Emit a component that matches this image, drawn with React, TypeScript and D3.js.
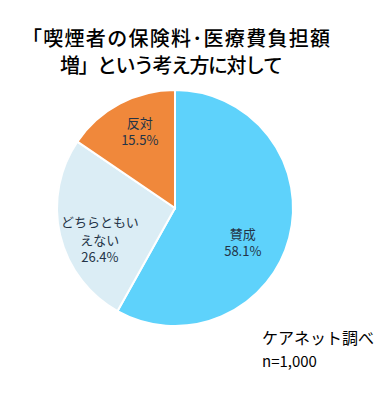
import React from "react";
import * as d3 from "d3";

const categories = ["賛成", "どちらともいえない", "反対"];
const values = [58.1, 26.4, 15.5];
const labelLines = [["賛成"], ["どちらともい", "えない"], ["反対"]];
const colors = ["#5ed2fb", "#dbedf5", "#f0883b"];
const titleLines = ["「喫煙者の保険料･医療費負担額", "増」という考え方に対して"];
const sourceLines = ["ケアネット調べ", "n=1,000"];

export default function App() {
  const W = 376, H = 400;
  const cx = 175, cy = 208, r = 118;
  const pie = d3.pie<number>().sort(null).value((d) => d);
  const arcs = pie(values);
  const arcGen = d3.arc<d3.PieArcDatum<number>>().innerRadius(0).outerRadius(r);
  const labelArc = d3.arc<d3.PieArcDatum<number>>().innerRadius(r * 0.62).outerRadius(r * 0.62);
  const font = "'Noto Sans CJK JP', sans-serif";
  const offsets = [[-3, 16], [-4, 15], [-1, -12]];
  const titleX = [22, 60];
  const titleLen = [308, 223];
  return (
    <svg width={W} height={H} style={{ position: "absolute", left: 0, top: 0, background: "#fff" }}>
      {titleLines.map((t, i) => (
        <text key={i} x={titleX[i]} y={46 + i * 27} fontFamily={font} fontSize={20} fontWeight={500} fill="#000"
          textLength={titleLen[i]} lengthAdjust="spacing">
          {t}
        </text>
      ))}
      <g transform={`translate(${cx},${cy})`}>
        {arcs.map((a, i) => (
          <path key={i} d={arcGen(a) || ""} fill={colors[i]} stroke="#fff" strokeWidth={2} />
        ))}
        {arcs.map((a, i) => {
          const [lx, ly] = labelArc.centroid(a);
          const lines = [...labelLines[i], values[i].toFixed(1) + "%"];
          const x = lx + offsets[i][0];
          const y0 = ly + offsets[i][1] - ((lines.length - 1) * 17.5) / 2;
          return (
            <text key={i} textAnchor="middle" fontFamily={font} fontSize={13} fill="#243447">
              {lines.map((l, j) => (
                <tspan key={j} x={x} y={y0 + j * 17.5 + 5}>{l}</tspan>
              ))}
            </text>
          );
        })}
      </g>
      {sourceLines.map((t, i) => (
        <text key={i} x={262} y={344 + i * 23} fontFamily={font} fontSize={i === 0 ? 16 : 15} fill="#000">
          {t}
        </text>
      ))}
    </svg>
  );
}
